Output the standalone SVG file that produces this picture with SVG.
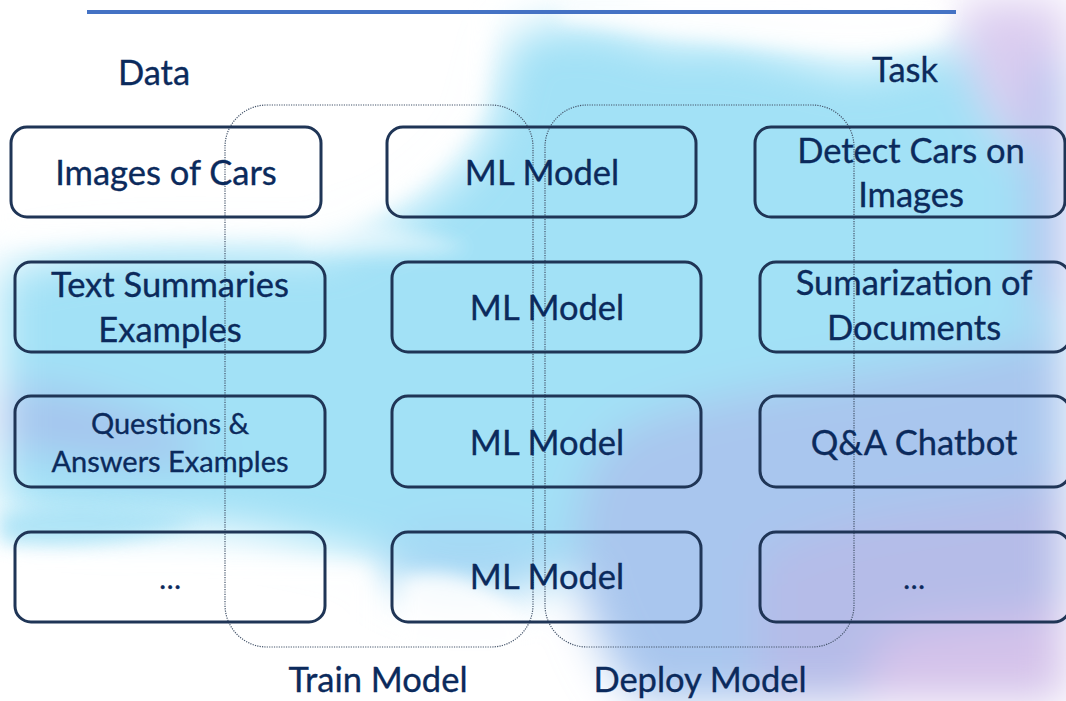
<svg xmlns="http://www.w3.org/2000/svg" width="1066" height="701" viewBox="0 0 1066 701">
<defs>
<style>
.box{fill:none;stroke:#1F3556;stroke-width:3;}
.grp{fill:none;stroke:#44546A;stroke-width:1.2;stroke-dasharray:1.2 1.2;}
.t{font-family:Lato,"Open Sans",sans-serif;font-size:34.5px;fill:#0B2A5C;stroke:#0B2A5C;stroke-width:0.35;text-anchor:middle;}
.s{font-size:29px;}
</style>
<filter id="blur" x="-50%" y="-50%" width="200%" height="200%"><feGaussianBlur stdDeviation="22"/></filter>
<filter id="blur2" x="-50%" y="-50%" width="200%" height="200%"><feGaussianBlur stdDeviation="9"/></filter>
</defs>
<rect width="1066" height="701" fill="#ffffff"/>
<g id="background">
<g filter="url(#blur)">
<path d="M510 40 C560 10 630 30 670 45 C730 30 800 60 860 70 C930 50 1000 40 1066 30 L1066 520 C900 560 700 520 560 580 C420 580 300 530 200 525 C120 525 40 525 0 505 L0 270 C100 240 200 250 330 250 C400 220 470 180 490 120 Z" fill="#A2E1F6"/>
<ellipse cx="365" cy="390" rx="70" ry="160" fill="#A2E1F6"/>
<ellipse cx="470" cy="560" rx="90" ry="40" fill="#A6D8F4"/>
<path d="M620 430 C720 380 900 380 1066 330 L1066 701 L640 701 C580 640 540 500 620 430 Z" fill="#A9C6EE"/>
<path d="M760 560 C860 500 980 520 1066 480 L1066 701 L760 701 Z" fill="#B5BCE8"/>
<path d="M880 640 C960 610 1040 630 1066 600 L1066 701 L860 701 Z" fill="#D4C2EA"/>
<path d="M960 0 L1066 0 L1066 200 C1010 150 960 90 960 0 Z" fill="#DCCDF0"/>
<path d="M1030 60 L1066 60 L1066 330 L1030 300 Z" fill="#B3C0EE"/>
<path d="M0 390 C60 380 140 410 200 440 C220 460 180 470 100 460 C60 455 20 450 0 445 Z" fill="#A6C4EE"/>
</g>
<g filter="url(#blur2)" opacity="0.85">
<path d="M0 515 C60 498 130 505 200 520 C130 545 60 548 0 542 Z" fill="#A8E2F6"/>
<path d="M400 580 C450 560 500 590 520 615 C540 650 520 690 470 701 L395 701 C380 660 410 620 400 580 Z" fill="#ffffff"/>
<path d="M0 565 L370 565 L370 701 L0 701 Z" fill="#ffffff"/>
<path d="M0 0 L490 0 L480 110 C430 190 370 222 300 232 L0 242 Z" fill="#ffffff"/>
<path d="M560 0 L950 0 L940 40 C880 55 800 50 720 40 C660 35 600 25 560 20 Z" fill="#ffffff"/>
<path d="M300 215 C360 215 420 230 470 248 C420 258 360 255 300 248 Z" fill="#ffffff" opacity="0.6"/>
</g>
</g>
<rect x="87" y="10" width="869" height="4" fill="#4472C4"/>
<g id="labels">
<text class="t" x="154" y="85">Data</text>
<text class="t" x="905" y="82">Task</text>
<text class="t" x="378" y="692">Train Model</text>
<text class="t" x="700" y="692">Deploy Model</text>
</g>
<g id="groups">
<rect id="train-model" class="grp" x="225" y="105" width="308" height="542" rx="42" ry="42"/>
<rect id="deploy-model" class="grp" x="545" y="105" width="309" height="542" rx="42" ry="42"/>
</g>
<g id="data-cars"><rect class="box" x="11" y="127" width="310" height="90" rx="16"/><text class="t" x="166" y="185">Images of Cars</text></g>
<g id="data-text"><rect class="box" x="15" y="262" width="310" height="90" rx="16"/><text class="t" x="170" y="297">Text Summaries</text><text class="t" x="170" y="342">Examples</text></g>
<g id="data-qa"><rect class="box" x="15" y="396" width="310" height="91" rx="16"/><text class="t s" x="170" y="434">Questions &amp;</text><text class="t s" x="170" y="472">Answers Examples</text></g>
<g id="data-more"><rect class="box" x="15" y="532" width="310" height="90" rx="16"/><text class="t s" x="170" y="589">…</text></g>
<g id="model-1"><rect class="box" x="387" y="127" width="309" height="90" rx="16"/><text class="t" x="542" y="185">ML Model</text></g>
<g id="model-2"><rect class="box" x="392" y="262" width="309" height="90" rx="16"/><text class="t" x="547" y="320">ML Model</text></g>
<g id="model-3"><rect class="box" x="392" y="396" width="309" height="91" rx="16"/><text class="t" x="547" y="455">ML Model</text></g>
<g id="model-4"><rect class="box" x="392" y="532" width="309" height="90" rx="16"/><text class="t" x="547" y="589">ML Model</text></g>
<g id="task-cars"><rect class="box" x="755" y="127" width="310" height="90" rx="16"/><text class="t" x="911" y="163">Detect Cars on</text><text class="t" x="911" y="207">Images</text></g>
<g id="task-sum"><rect class="box" x="760" y="262" width="310" height="90" rx="16"/><text class="t" x="914" y="295">Sumarization of</text><text class="t" x="914" y="340">Documents</text></g>
<g id="task-qa"><rect class="box" x="760" y="396" width="310" height="91" rx="16"/><text class="t" x="914" y="455">Q&amp;A Chatbot</text></g>
<g id="task-more"><rect class="box" x="760" y="532" width="310" height="90" rx="16"/><text class="t s" x="914" y="589">…</text></g>
</svg>
